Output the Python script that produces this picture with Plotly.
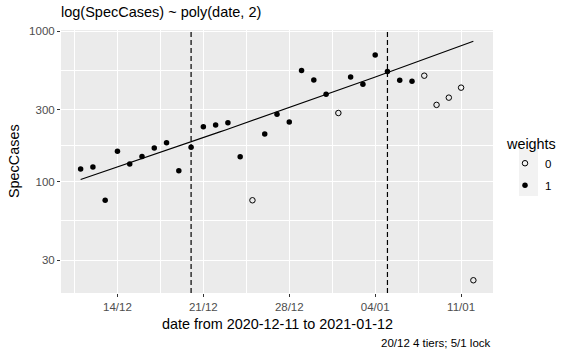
import numpy as np
import pandas as pd
import plotly.graph_objects as go

# ---- data ----
dates = pd.date_range("2020-12-11", "2021-01-12", freq="D")
spec_cases = [121, 125, 75, 159, 131, 147, 167, 181, 118, 169,
              232, 238, 246, 146, 75, 207, 281, 249, 548, 475,
              381, 286, 497, 445, 697, 540, 473, 466, 507, 324,
              362, 422, 22]
weights = [1, 1, 1, 1, 1, 1, 1, 1, 1, 1,
           1, 1, 1, 1, 0, 1, 1, 1, 1, 1,
           1, 0, 1, 1, 1, 1, 1, 1, 0, 0,
           0, 0, 0]
event_dates = ["2020-12-20", "2021-01-05"]
x_tick_vals = ["2020-12-14", "2020-12-21", "2020-12-28", "2021-01-04", "2021-01-11"]
x_tick_text = ["14/12", "21/12", "28/12", "04/01", "11/01"]
x_minor_vals = ["2020-12-10 12:00", "2020-12-17 12:00", "2020-12-24 12:00",
                "2020-12-31 12:00", "2021-01-07 12:00"]
y_tick_vals = [30, 100, 300, 1000]
y_minor_vals = [54.77, 173.2, 547.7]

title = "log(SpecCases) ~ poly(date, 2)"
x_title = "date from 2020-12-11 to 2021-01-12"
y_title = "SpecCases"
legend_title = "weights"
caption = "20/12 4 tiers; 5/1 lock"

# ---- weighted quadratic fit on log scale ----
dates = pd.to_datetime(dates)
t = (dates - dates[0]).days.values.astype(float)
y = np.log(np.array(spec_cases, dtype=float))
w = np.array(weights, dtype=float)
tc = t - t.mean()
coef = np.polyfit(tc, y, 2, w=np.sqrt(w))
tg = np.linspace(t.min(), t.max(), 80)
fit_vals = np.exp(np.polyval(coef, tg - t.mean()))
fit_dates = dates[0] + pd.to_timedelta(tg, unit="D")

FONT = "Liberation Sans, Arial, sans-serif"
W, H = 579, 357
L, R, T, B = 61, 86, 30, 64
PW, PH = W - L - R, H - T - B
TICK_FS, AXT_FS, TITLE_FS = 11.5, 14.4, 14.5

fig = go.Figure()

wa = np.array(weights)
sc = np.array(spec_cases)
fig.add_trace(go.Scatter(
    x=dates[wa == 0], y=sc[wa == 0], mode="markers", name="0", legendgroup="g0",
    marker=dict(symbol="circle-open", size=5.5, color="black", line=dict(width=1))))
fig.add_trace(go.Scatter(
    x=dates[wa == 1], y=sc[wa == 1], mode="markers", name="1", legendgroup="g1",
    marker=dict(symbol="circle", size=5.5, color="black")))
fig.add_trace(go.Scatter(
    x=fit_dates, y=fit_vals, mode="lines", showlegend=False,
    line=dict(color="black", width=1.1)))

for d in event_dates:
    fig.add_vline(x=d, line=dict(color="black", width=1.2, dash="5px,3px"))

x0 = dates[0] - pd.Timedelta(days=1.6)
x1 = dates[-1] + pd.Timedelta(days=1.6)

fig.update_layout(
    template="none",
    width=W, height=H,
    margin=dict(l=L, r=R, t=T, b=B, autoexpand=False),
    paper_bgcolor="white", plot_bgcolor="#EBEBEB",
    font=dict(family=FONT, color="black"),
    title=dict(text=title, x=L / W, xanchor="left", y=1 - 12 / H, yanchor="middle",
               font=dict(size=TITLE_FS, color="black")),
    showlegend=True,
    legend=dict(title=dict(text=legend_title, font=dict(size=AXT_FS, color="black")),
                font=dict(size=TICK_FS, color="black"), x=(505 - L) / PW, xanchor="left",
                y=(H - B - 130) / PH, yanchor="top", tracegroupgap=3,
                bgcolor="rgba(0,0,0,0)", borderwidth=0),
    xaxis=dict(type="date", range=[x0, x1], tickmode="array",
               tickvals=x_tick_vals, ticktext=x_tick_text, automargin=False,
               showgrid=True, gridcolor="white", gridwidth=1.4,
               ticks="outside", ticklen=3, tickcolor="#333333", tickwidth=1,
               tickfont=dict(size=TICK_FS, color="#4D4D4D"),
               minor=dict(tickmode="array", tickvals=x_minor_vals, showgrid=True,
                          gridcolor="white", gridwidth=0.7, ticks=""),
               zeroline=False, showline=False),
    yaxis=dict(type="log", range=[1.2575, 3.0093], tickmode="array",
               tickvals=y_tick_vals, ticktext=[str(v) for v in y_tick_vals],
               automargin=False,
               showgrid=True, gridcolor="white", gridwidth=1.4,
               ticks="outside", ticklen=3, tickcolor="#333333", tickwidth=1,
               tickfont=dict(size=TICK_FS, color="#4D4D4D"),
               minor=dict(tickmode="array", tickvals=y_minor_vals, showgrid=True,
                          gridcolor="white", gridwidth=0.7, ticks=""),
               zeroline=False, showline=False),
)

# legend key backgrounds
fig.add_shape(type="rect", xref="paper", yref="paper", layer="below",
              x0=(519 - L) / PW, x1=(538 - L) / PW,
              y0=(H - B - 196) / PH, y1=(H - B - 149) / PH,
              fillcolor="#F2F2F2", line=dict(width=0))

fig.add_annotation(text=x_title, xref="paper", yref="paper", x=0.5,
                   y=-(324 - (H - B)) / PH, xanchor="center", yanchor="middle",
                   showarrow=False, font=dict(size=AXT_FS, color="black"))
fig.add_annotation(text=y_title, xref="paper", yref="paper", x=-(L - 14) / PW,
                   y=(H - B - 161) / PH, xanchor="center", yanchor="middle",
                   textangle=-90, showarrow=False, font=dict(size=AXT_FS, color="black"))
fig.add_annotation(text=caption, xref="paper", yref="paper", x=1, y=-(343 - (H - B)) / PH,
                   xanchor="right", yanchor="middle", showarrow=False,
                   font=dict(size=TICK_FS, color="black"))

fig.write_html("out.html", config={"displayModeBar": False},
               post_script="document.body.style.margin='0';document.body.style.overflow='hidden';")
